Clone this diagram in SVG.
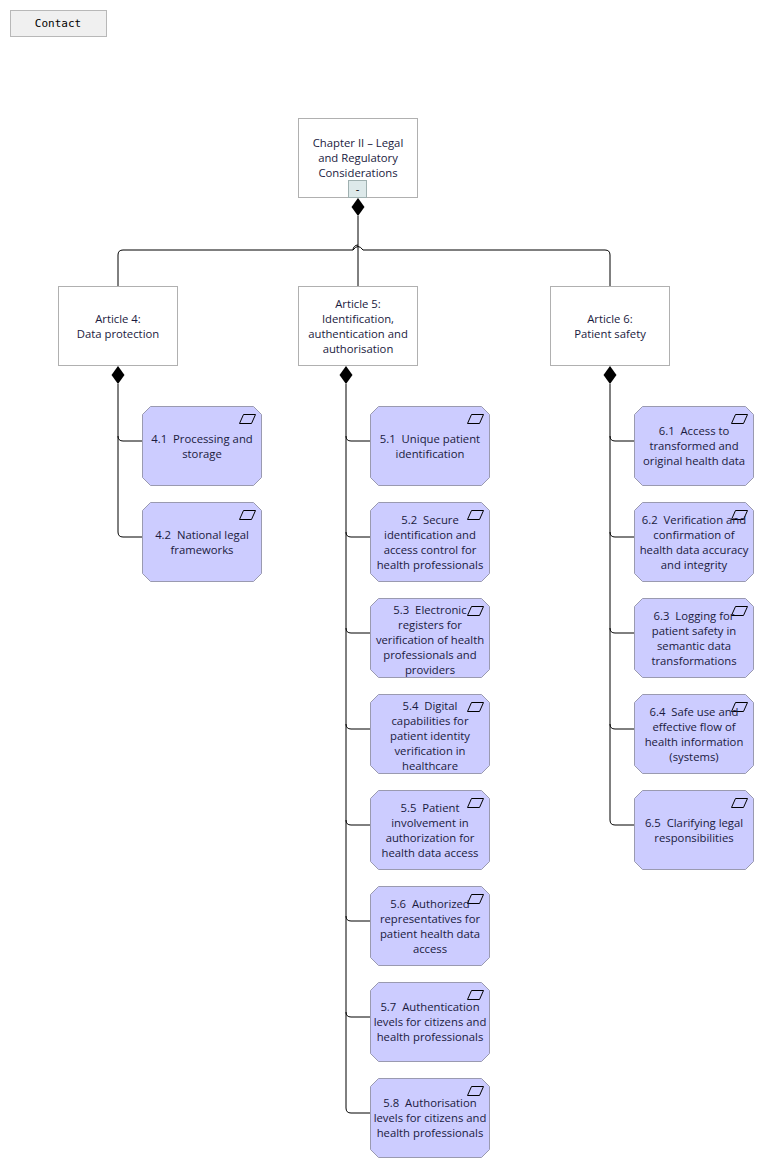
<svg xmlns="http://www.w3.org/2000/svg" width="764" height="1168" viewBox="0 0 764 1168">
<style>
text{font-family:"Segoe UI","Open Sans","Noto Sans",sans-serif;font-size:11.3px;fill:#1a1a40;text-anchor:middle;white-space:pre}
.box{fill:#fff;stroke:#b0b0b0;stroke-width:1}
.req{fill:#ccccff;stroke:#9a9ab0;stroke-width:1}
.c{fill:none;stroke:#000;stroke-width:1}
.ic{fill:none;stroke:#000;stroke-width:1}
</style>
<defs>
<polygon id="dia" points="0,0 6.5,9 0,18 -6.5,9" fill="#000"/>
<polygon id="oct" class="req" points="8,0 111,0 119,8 119,71 111,79 8,79 0,71 0,8"/>
<path id="pg" d="M4,0 H16 L12,9 H0 Z" class="ic"/>
</defs>
<rect width="764" height="1168" fill="#fff"/>
<g id="contact"><rect x="10.5" y="10.5" width="96" height="26" fill="#f0f0f0" stroke="#b8b8b8"/><text x="58" y="27" style="font-family:'DejaVu Sans Mono',monospace;font-size:11px;fill:#000">Contact</text></g>
<g id="connectors">
<path class="c" d="M358,216 V245 A5,5 0 0 0 353,250 H123 Q118,250 118,255 V286"/>
<path class="c" d="M363,250 H605 Q610,250 610,255 V286"/>
<path class="c" d="M353,250 Q358,243 363,250"/>
<path class="c" d="M358,245 V286"/>
<path class="c" d="M118,384 V436 Q118,441 123,441 H142 M118,436 V532 Q118,537 123,537 H142"/>
<path class="c" d="M346,384 V1108 Q346,1113 351,1113 H370"/>
<path class="c" d="M346,436 Q346,441 351,441 H370 M346,532 Q346,537 351,537 H370 M346,628 Q346,633 351,633 H370 M346,724 Q346,729 351,729 H370 M346,820 Q346,825 351,825 H370 M346,916 Q346,921 351,921 H370 M346,1012 Q346,1017 351,1017 H370"/>
<path class="c" d="M610,384 V820 Q610,825 615,825 H634"/>
<path class="c" d="M610,436 Q610,441 615,441 H634 M610,532 Q610,537 615,537 H634 M610,628 Q610,633 615,633 H634 M610,724 Q610,729 615,729 H634"/>
<use href="#dia" x="358" y="198"/>
<use href="#dia" x="118" y="366"/>
<use href="#dia" x="346" y="366"/>
<use href="#dia" x="610" y="366"/>
</g>
<g id="chapter"><rect class="box" x="298.5" y="118.5" width="119" height="79"/><text x="358" y="147">Chapter II – Legal</text><text x="358" y="162">and Regulatory</text><text x="358" y="177">Considerations</text><rect x="348.5" y="180.5" width="18" height="17" fill="#dde9ea" stroke="#9fb0b0"/><text x="357.5" y="193" style="fill:#000">-</text></g>
<g id="a4"><rect class="box" x="58.5" y="286.5" width="119" height="79"/><text x="118" y="323">Article 4:</text><text x="118" y="338">Data protection</text></g>
<g id="a5"><rect class="box" x="298.5" y="286.5" width="119" height="79"/><text x="358" y="308">Article 5:</text><text x="358" y="323">Identification,</text><text x="358" y="338">authentication and</text><text x="358" y="353">authorisation</text></g>
<g id="a6"><rect class="box" x="550.5" y="286.5" width="119" height="79"/><text x="610" y="323">Article 6:</text><text x="610" y="338">Patient safety</text></g>
<g id="r41" transform="translate(142.5,406.5)"><use href="#oct"/><use href="#pg" x="97" y="8"/><text x="59.5" y="36">4.1  Processing and</text><text x="59.5" y="51">storage</text></g>
<g id="r42" transform="translate(142.5,502.5)"><use href="#oct"/><use href="#pg" x="97" y="8"/><text x="59.5" y="36">4.2  National legal</text><text x="59.5" y="51">frameworks</text></g>
<g id="r51" transform="translate(370.5,406.5)"><use href="#oct"/><use href="#pg" x="97" y="8"/><text x="59.5" y="36">5.1  Unique patient</text><text x="59.5" y="51">identification</text></g>
<g id="r52" transform="translate(370.5,502.5)"><use href="#oct"/><use href="#pg" x="97" y="8"/><text x="59.5" y="21">5.2  Secure</text><text x="59.5" y="36">identification and</text><text x="59.5" y="51">access control for</text><text x="59.5" y="66">health professionals</text></g>
<g id="r53" transform="translate(370.5,598.5)"><use href="#oct"/><use href="#pg" x="97" y="8"/><text x="59.5" y="15">5.3  Electronic</text><text x="59.5" y="30">registers for</text><text x="59.5" y="45">verification of health</text><text x="59.5" y="60">professionals and</text><text x="59.5" y="75">providers</text></g>
<g id="r54" transform="translate(370.5,694.5)"><use href="#oct"/><use href="#pg" x="97" y="8"/><text x="59.5" y="15">5.4  Digital</text><text x="59.5" y="30">capabilities for</text><text x="59.5" y="45">patient identity</text><text x="59.5" y="60">verification in</text><text x="59.5" y="75">healthcare</text></g>
<g id="r55" transform="translate(370.5,790.5)"><use href="#oct"/><use href="#pg" x="97" y="8"/><text x="59.5" y="21">5.5  Patient</text><text x="59.5" y="36">involvement in</text><text x="59.5" y="51">authorization for</text><text x="59.5" y="66">health data access</text></g>
<g id="r56" transform="translate(370.5,886.5)"><use href="#oct"/><use href="#pg" x="97" y="8"/><text x="59.5" y="21">5.6  Authorized</text><text x="59.5" y="36">representatives for</text><text x="59.5" y="51">patient health data</text><text x="59.5" y="66">access</text></g>
<g id="r57" transform="translate(370.5,982.5)"><use href="#oct"/><use href="#pg" x="97" y="8"/><text x="59.5" y="28">5.7  Authentication</text><text x="59.5" y="43">levels for citizens and</text><text x="59.5" y="58">health professionals</text></g>
<g id="r58" transform="translate(370.5,1078.5)"><use href="#oct"/><use href="#pg" x="97" y="8"/><text x="59.5" y="28">5.8  Authorisation</text><text x="59.5" y="43">levels for citizens and</text><text x="59.5" y="58">health professionals</text></g>
<g id="r61" transform="translate(634.5,406.5)"><use href="#oct"/><use href="#pg" x="97" y="8"/><text x="59.5" y="28">6.1  Access to</text><text x="59.5" y="43">transformed and</text><text x="59.5" y="58">original health data</text></g>
<g id="r62" transform="translate(634.5,502.5)"><use href="#oct"/><use href="#pg" x="97" y="8"/><text x="59.5" y="21">6.2  Verification and</text><text x="59.5" y="36">confirmation of</text><text x="59.5" y="51">health data accuracy</text><text x="59.5" y="66">and integrity</text></g>
<g id="r63" transform="translate(634.5,598.5)"><use href="#oct"/><use href="#pg" x="97" y="8"/><text x="59.5" y="21">6.3  Logging for</text><text x="59.5" y="36">patient safety in</text><text x="59.5" y="51">semantic data</text><text x="59.5" y="66">transformations</text></g>
<g id="r64" transform="translate(634.5,694.5)"><use href="#oct"/><use href="#pg" x="97" y="8"/><text x="59.5" y="21">6.4  Safe use and</text><text x="59.5" y="36">effective flow of</text><text x="59.5" y="51">health information</text><text x="59.5" y="66">(systems)</text></g>
<g id="r65" transform="translate(634.5,790.5)"><use href="#oct"/><use href="#pg" x="97" y="8"/><text x="59.5" y="36">6.5  Clarifying legal</text><text x="59.5" y="51">responsibilities</text></g>
</svg>
